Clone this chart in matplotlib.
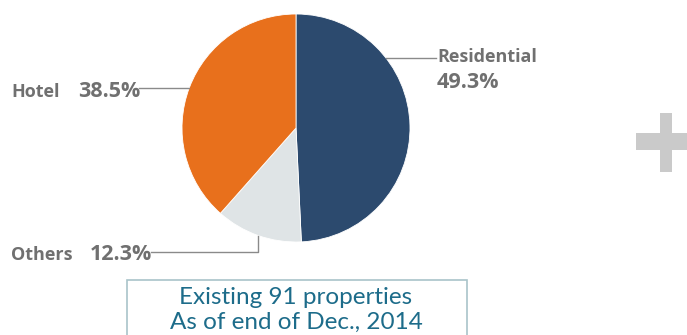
import numpy as np
import matplotlib.pyplot as plt
from matplotlib.patches import Rectangle

categories = ["Residential", "Others", "Hotel"]
shares = [49.3, 12.3, 38.5]
colors = ["#2c4a6e", "#dfe4e6", "#e8701c"]
box_lines = ["Existing 91 properties", "As of end of Dec., 2014"]

W, H = 687, 335
fig = plt.figure(figsize=(W / 100, H / 100), dpi=100)
ax = fig.add_axes([0, 0, 1, 1])

cx, cy, r = 296, H - 128, 114
wedges, _ = ax.pie(shares, colors=colors, startangle=90, counterclock=False,
                   center=(cx, cy), radius=r, frame=True,
                   wedgeprops=dict(linewidth=0.6, edgecolor="white"))
ax.set_xlim(0, W)
ax.set_ylim(0, H)
ax.set_aspect("equal")
ax.axis("off")


def edge_point(angle_deg):
    a = np.deg2rad(angle_deg)
    return cx + r * np.cos(a), cy + r * np.sin(a)


lab_col = "#707070"
line_col = "#8a8a8a"
fam = ["Open Sans", "DejaVu Sans"]
cap_fam = ["Lato", "DejaVu Sans"]
name_fs, pct_fs = 13.0, 15.5

# Residential
x0, y0 = edge_point(38)
ax.plot([x0, 436], [y0, y0], color=line_col, lw=1)
ax.text(437, y0 + 1, categories[0], ha="left", va="center", fontsize=name_fs,
        fontweight="bold", color=lab_col, family=fam)
ax.text(437, y0 - 25, f"{shares[0]}%", ha="left", va="center", fontsize=pct_fs,
        fontweight="bold", color=lab_col, family=fam)

# Hotel
mid_h = (wedges[2].theta1 + wedges[2].theta2) / 2
x0, y0 = edge_point(mid_h)
ax.plot([139, x0], [y0, y0], color=line_col, lw=1)
ax.text(11, y0 - 4, categories[2], ha="left", va="center", fontsize=name_fs,
        fontweight="bold", color=lab_col, family=fam)
ax.text(140, y0 - 4, f"{shares[2]}%", ha="right", va="center", fontsize=pct_fs,
        fontweight="bold", color=lab_col, family=fam)

# Others
mid_o = (wedges[1].theta1 + wedges[1].theta2) / 2
x0, y0 = edge_point(mid_o)
ly = H - 252
ax.plot([151, x0, x0], [ly, ly, y0], color=line_col, lw=1)
ax.text(11, ly - 3, categories[1], ha="left", va="center", fontsize=name_fs,
        fontweight="bold", color=lab_col, family=fam)
ax.text(152, ly - 3, f"{shares[1]}%", ha="right", va="center", fontsize=pct_fs,
        fontweight="bold", color=lab_col, family=fam)

# caption box
ax.add_patch(Rectangle((126.5, -10), 340, H - 280 + 10, fill=False,
                       edgecolor="#a9c4c9", lw=1.2))
ax.text(296, H - 298, box_lines[0], ha="center", va="center", fontsize=17.5,
        color="#1d6c8a", family=cap_fam)
ax.text(296, H - 322, box_lines[1], ha="center", va="center", fontsize=17.5,
        color="#1d6c8a", family=cap_fam)

# plus sign at the right edge
ax.add_patch(Rectangle((660, H - 172), 12, 59, color="#cacaca", lw=0))
ax.add_patch(Rectangle((636, H - 150), 60, 17, color="#cacaca", lw=0))

fig.savefig("out.png", dpi=100, facecolor="white")
